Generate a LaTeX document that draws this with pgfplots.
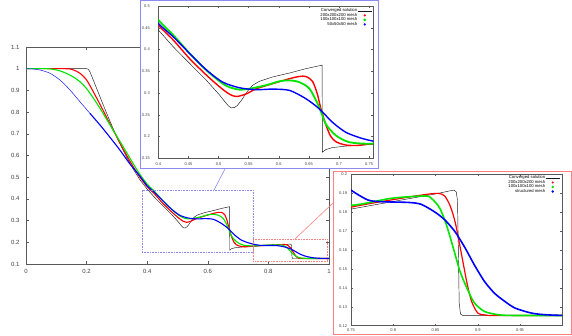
\documentclass[border=0pt]{standalone}
\usepackage{fontspec}
\setmainfont{Liberation Sans}
\usepackage{pgfplots}
\pgfplotsset{compat=1.18}
\usepackage{pgfplotstable}

% converged solution
\pgfplotstableread{
x y
0 1.0
0.2 1.0
0.205 0.998
0.211 0.986
0.222 0.948
0.244 0.871
0.266 0.795
0.288 0.722
0.310 0.655
0.332 0.592
0.354 0.537
0.376 0.488
0.4 0.445
0.425 0.406
0.452 0.368
0.48 0.329
0.502 0.295
0.510 0.281
0.516 0.271
0.521 0.266
0.526 0.2665
0.531 0.271
0.538 0.283
0.546 0.300
0.552 0.311
0.557 0.318
0.563 0.323
0.568 0.327
0.59 0.337
0.618 0.346
0.645 0.356
0.672 0.364
0.6725 0.164
0.678 0.170
0.689 0.1746
0.711 0.178
0.75 0.1815
0.8 0.1855
0.85 0.1895
0.868 0.1912
0.872 0.1915
0.8745 0.1905
0.876 0.186
0.877 0.160
0.878 0.132
0.8795 0.1262
0.882 0.1254
1.0 0.1254
}\conv

% 200x200x200 mesh
\pgfplotstableread{
x y
0 1.0
0.13 1.0
0.155 0.995
0.178 0.979
0.2 0.948
0.222 0.894
0.244 0.836
0.266 0.776
0.288 0.717
0.31 0.657
0.332 0.601
0.354 0.548
0.376 0.500
0.4 0.456
0.425 0.4215
0.452 0.379
0.48 0.341
0.502 0.314
0.5185 0.297
0.53 0.292
0.546 0.298
0.563 0.310
0.59 0.3215
0.618 0.333
0.634 0.338
0.645 0.338
0.656 0.327
0.664 0.298
0.67 0.264
0.678 0.228
0.686 0.201
0.695 0.188
0.711 0.1805
0.73 0.1795
0.75 0.1825
0.8 0.1865
0.853 0.1898
0.865 0.1854
0.873 0.175
0.881 0.157
0.887 0.143
0.8925 0.133
0.9 0.1267
0.91 0.1256
0.92 0.1254
1.0 0.1254
}\rmesh

% 100x100x100 mesh
\pgfplotstableread{
x y
0 1.0
0.07 1.0
0.09 0.997
0.112 0.990
0.134 0.978
0.156 0.962
0.178 0.940
0.2 0.908
0.222 0.865
0.244 0.818
0.266 0.767
0.288 0.716
0.31 0.665
0.332 0.614
0.354 0.562
0.376 0.513
0.4 0.468
0.425 0.433
0.452 0.391
0.48 0.352
0.507 0.3215
0.519 0.313
0.535 0.3077
0.552 0.310
0.579 0.318
0.601 0.327
0.618 0.329
0.634 0.325
0.651 0.310
0.667 0.268
0.678 0.229
0.695 0.2023
0.717 0.187
0.75 0.1835
0.798 0.1872
0.837 0.1884
0.845 0.1872
0.855 0.182
0.863 0.173
0.871 0.161
0.879 0.1486
0.887 0.140
0.896 0.132
0.908 0.1275
0.924 0.1258
0.94 0.1254
1.0 0.1254
}\gmesh

% 50x50x50 mesh
\pgfplotstableread{
x y
0 1.0
0.02 0.999
0.046 0.994
0.079 0.979
0.112 0.948
0.145 0.902
0.178 0.848
0.211 0.794
0.244 0.741
0.277 0.684
0.31 0.625
0.343 0.561
0.376 0.505
0.4 0.460
0.425 0.429
0.452 0.391
0.48 0.353
0.507 0.325
0.535 0.312
0.563 0.3077
0.59 0.309
0.618 0.306
0.645 0.287
0.667 0.264
0.689 0.233
0.711 0.210
0.733 0.198
0.75 0.1915
0.77 0.1863
0.786 0.1854
0.818 0.185
0.833 0.184
0.849 0.180
0.861 0.1758
0.873 0.1696
0.885 0.161
0.896 0.152
0.908 0.1433
0.92 0.137
0.932 0.1328
0.944 0.1293
0.963 0.1267
0.979 0.1258
1.0 0.1254
}\bmesh

\definecolor{gpred}{HTML}{FF0000}
\definecolor{gpgreen}{HTML}{00E600}
\definecolor{gpblue}{HTML}{0000FF}
\definecolor{frameblue}{HTML}{8C8CF0}
\definecolor{framered}{HTML}{FF8080}

\pgfplotsset{
  gp/.style={scale only axis, axis line style={black!65, line width=0.5pt},
    tick style={black!65, line width=0.4pt}, tick align=inside,
    ticklabel style={text=black!75},
    /pgf/number format/assume math mode=true},
  conv/.style={black!90, line width=0.45pt},
  mesh/.style={smooth, tension=0.45},
  dotleg/.style={legend image code/.code={\fill[#1] (0.25cm,0cm) circle[radius=0.25pt];}},
}

\begin{document}
\begin{tikzpicture}[x=1pt,y=1pt]
\useasboundingbox (0,0) rectangle (572,336);

% main plot
\begin{axis}[gp, at={(26pt,72pt)}, anchor=south west, width=303pt, height=217pt,
  xmin=0, xmax=1, ymin=0.1, ymax=1.1,
  xtick={0,0.2,0.4,0.6,0.8,1},
  ytick={0.1,0.2,0.3,0.4,0.5,0.6,0.7,0.8,0.9,1,1.1},
  major tick length=3pt,
  ticklabel style={font=\fontsize{6}{7}\selectfont},
  yticklabel style={xshift=-3pt}, xticklabel style={yshift=-1.5pt}]
\addplot[conv] table {\conv};
\addplot[gpred, line width=1.1pt, mesh] table {\rmesh};
\addplot[gpgreen, line width=1.1pt, mesh] table {\gmesh};
\addplot[gpblue!85, line width=0.55pt, mesh, restrict x to domain=0:0.212] table {\bmesh};
\addplot[gpblue, line width=1.1pt, mesh, restrict x to domain=0.21:1] table {\bmesh};
\draw[frameblue, densely dotted, line width=0.6pt] (axis cs:0.385,0.152) rectangle (axis cs:0.749,0.44);
\draw[framered, densely dotted, line width=0.6pt] (axis cs:0.75,0.1107) rectangle (axis cs:0.996,0.215);
\end{axis}

% connectors
\draw[frameblue, line width=0.6pt] (214,146) -- (225,167);
\draw[framered, line width=0.6pt] (295,97) -- (333,133);

% inset 1
\fill[white] (140,167) rectangle (379,336);
\draw[frameblue, line width=0.8pt] (140.5,167.4) rectangle (378.6,335.6);
\begin{axis}[gp, at={(158.3pt,177.7pt)}, anchor=south west, width=215pt, height=152.3pt,
  xmin=0.4, xmax=0.757, ymin=0.15, ymax=0.5,
  xtick={0.4,0.45,0.5,0.55,0.6,0.65,0.7,0.75},
  ytick={0.15,0.2,0.25,0.3,0.35,0.4,0.45,0.5},
  major tick length=2pt,
  ticklabel style={font=\fontsize{4}{4.5}\selectfont},
  yticklabel style={xshift=-5pt}, xticklabel style={yshift=-1pt},
  legend style={draw=none, fill=none, at={(1,1)}, anchor=north east,
    xshift=-1pt, yshift=-2.5pt, inner sep=0pt, row sep=0pt,
    font=\fontsize{4.2}{4.2}\selectfont,
    nodes={inner sep=0.3pt, text height=3pt, text depth=0.9pt}},
  legend cell align=right, legend plot pos=right,
  legend image code/.code={\draw[#1] (0cm,0cm) -- (0.5cm,0cm);}]
\addplot[conv] table {\conv};
\addlegendentry{Converged solution}
\addplot[gpred, line width=1.4pt, mesh, dotleg=gpred] table {\rmesh};
\addlegendentry{200x200x200 mesh}
\addplot[gpgreen, line width=1.8pt, mesh, dotleg=gpgreen] table {\gmesh};
\addlegendentry{100x100x100 mesh}
\addplot[gpblue, line width=1.4pt, mesh, dotleg=gpblue] table {\bmesh};
\addlegendentry{50x50x50 mesh}
\end{axis}

% inset 2
\fill[white] (333,1) rectangle (572,165);
\draw[framered, line width=0.8pt] (333.4,1.2) rectangle (571.5,164.8);
\begin{axis}[gp, at={(351pt,10.3pt)}, anchor=south west, width=211.3pt, height=151.7pt,
  xmin=0.75, xmax=1, ymin=0.12, ymax=0.2,
  xtick={0.75,0.8,0.85,0.9,0.95,1},
  xticklabels={0.75,0.8,0.85,0.9,0.95,},
  ytick={0.12,0.13,0.14,0.15,0.16,0.17,0.18,0.19,0.2},
  major tick length=2pt,
  ticklabel style={font=\fontsize{4}{4.5}\selectfont},
  yticklabel style={xshift=-0.5pt}, xticklabel style={yshift=0.5pt},
  legend style={draw=none, fill=none, at={(1,1)}, anchor=north east,
    xshift=-2pt, yshift=-1.5pt, inner sep=0pt, row sep=0pt,
    font=\fontsize{4.2}{4.2}\selectfont,
    nodes={inner sep=0.3pt, text height=3pt, text depth=0.9pt}},
  legend cell align=right, legend plot pos=right,
  legend image code/.code={\draw[#1] (0cm,0cm) -- (0.5cm,0cm);}]
\addplot[conv] table {\conv};
\addlegendentry{Converged solution}
\addplot[gpred, line width=1.2pt, mesh, dotleg=gpred] table {\rmesh};
\addlegendentry{200x200x200 mesh}
\addplot[gpgreen, line width=1.6pt, mesh, dotleg=gpgreen] table {\gmesh};
\addlegendentry{100x100x100 mesh}
\addplot[gpblue, line width=1.6pt, mesh, dotleg=gpblue] table {\bmesh};
\addlegendentry{structured mesh}
\end{axis}
\end{tikzpicture}
\end{document}
